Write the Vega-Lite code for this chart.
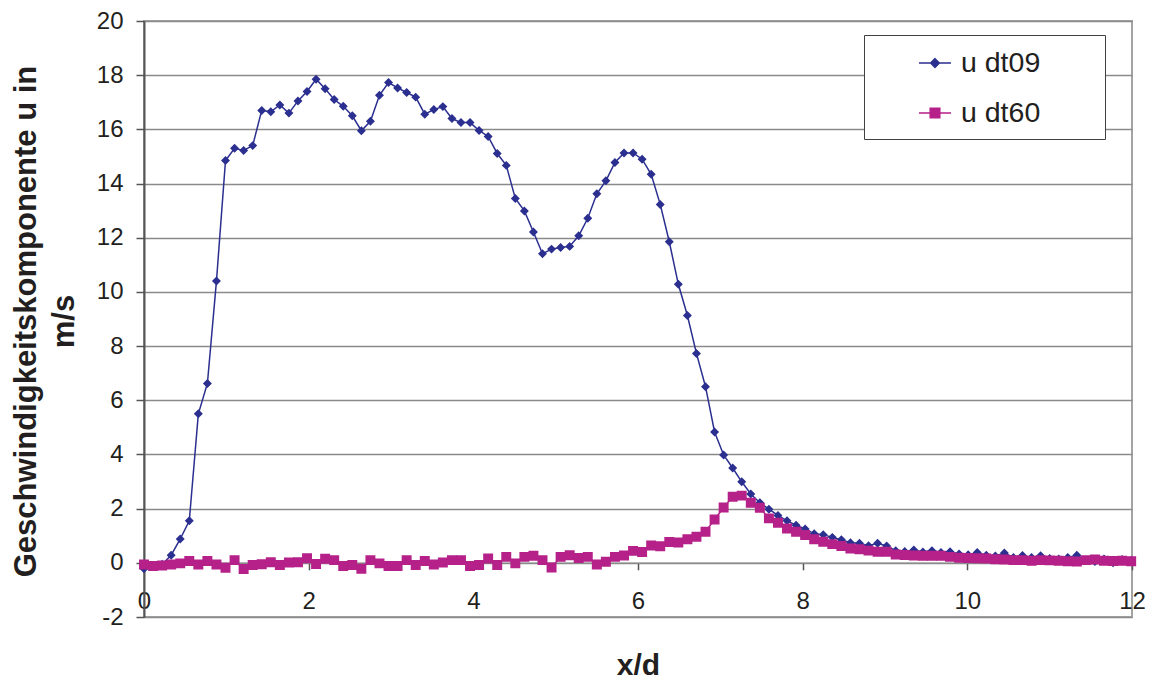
{
  "$schema": "https://vega.github.io/schema/vega-lite/v6.json",
  "autosize": {"type": "none"},
  "width": 988,
  "height": 596,
  "padding": {"left": 144, "top": 21, "right": 22, "bottom": 63},
  "background": "white",
  "config": {
    "font": "Liberation Sans",
    "view": {"stroke": "#a3a3a3", "strokeWidth": 2},
    "axis": {"labelFont": "Liberation Sans", "titleFont": "Liberation Sans", "labelColor": "#231f20", "titleColor": "#231f20"},
    "legend": {"orient": "none", "legendX": 720, "legendY": 14, "padding": 11, "rowPadding": 18, "strokeColor": "#404040", "fillColor": "white", "labelFontSize": 28.5, "labelFont": "Liberation Sans", "labelColor": "#231f20", "labelOffset": 9, "symbolSize": 1024, "symbolStrokeWidth": 1.5, "titleOrient": "left", "titleFontSize": 10, "titlePadding": 43}
  },
  "datasets": {
    "d": [
      {"x":0,"series":"u dt09","u":-0.22},{"x":0.11,"series":"u dt09","u":-0.12},{"x":0.22,"series":"u dt09","u":-0.05},{"x":0.33,"series":"u dt09","u":0.28},{"x":0.44,"series":"u dt09","u":0.88},{"x":0.55,"series":"u dt09","u":1.55},{"x":0.66,"series":"u dt09","u":5.5},{"x":0.77,"series":"u dt09","u":6.62},{"x":0.88,"series":"u dt09","u":10.4},{"x":0.99,"series":"u dt09","u":14.85},
      {"x":1.1,"series":"u dt09","u":15.3},{"x":1.21,"series":"u dt09","u":15.22},{"x":1.32,"series":"u dt09","u":15.4},{"x":1.43,"series":"u dt09","u":16.7},{"x":1.54,"series":"u dt09","u":16.65},{"x":1.65,"series":"u dt09","u":16.9},{"x":1.76,"series":"u dt09","u":16.6},{"x":1.87,"series":"u dt09","u":17.05},{"x":1.98,"series":"u dt09","u":17.4},{"x":2.09,"series":"u dt09","u":17.85},
      {"x":2.2,"series":"u dt09","u":17.5},{"x":2.31,"series":"u dt09","u":17.1},{"x":2.42,"series":"u dt09","u":16.85},{"x":2.53,"series":"u dt09","u":16.5},{"x":2.64,"series":"u dt09","u":15.95},{"x":2.75,"series":"u dt09","u":16.3},{"x":2.86,"series":"u dt09","u":17.26},{"x":2.97,"series":"u dt09","u":17.73},{"x":3.08,"series":"u dt09","u":17.53},{"x":3.19,"series":"u dt09","u":17.36},
      {"x":3.3,"series":"u dt09","u":17.19},{"x":3.41,"series":"u dt09","u":16.56},{"x":3.52,"series":"u dt09","u":16.73},{"x":3.63,"series":"u dt09","u":16.84},{"x":3.74,"series":"u dt09","u":16.4},{"x":3.85,"series":"u dt09","u":16.25},{"x":3.96,"series":"u dt09","u":16.25},{"x":4.07,"series":"u dt09","u":15.96},{"x":4.18,"series":"u dt09","u":15.74},{"x":4.29,"series":"u dt09","u":15.11},
      {"x":4.4,"series":"u dt09","u":14.67},{"x":4.51,"series":"u dt09","u":13.45},{"x":4.62,"series":"u dt09","u":12.99},{"x":4.73,"series":"u dt09","u":12.21},{"x":4.84,"series":"u dt09","u":11.41},{"x":4.95,"series":"u dt09","u":11.58},{"x":5.06,"series":"u dt09","u":11.64},{"x":5.17,"series":"u dt09","u":11.68},{"x":5.28,"series":"u dt09","u":12.07},{"x":5.39,"series":"u dt09","u":12.72},
      {"x":5.5,"series":"u dt09","u":13.62},{"x":5.61,"series":"u dt09","u":14.1},{"x":5.72,"series":"u dt09","u":14.78},{"x":5.83,"series":"u dt09","u":15.13},{"x":5.94,"series":"u dt09","u":15.13},{"x":6.05,"series":"u dt09","u":14.9},{"x":6.16,"series":"u dt09","u":14.34},{"x":6.27,"series":"u dt09","u":13.23},{"x":6.38,"series":"u dt09","u":11.85},{"x":6.49,"series":"u dt09","u":10.28},
      {"x":6.6,"series":"u dt09","u":9.13},{"x":6.71,"series":"u dt09","u":7.73},{"x":6.82,"series":"u dt09","u":6.5},{"x":6.93,"series":"u dt09","u":4.83},{"x":7.04,"series":"u dt09","u":3.98},{"x":7.15,"series":"u dt09","u":3.5},{"x":7.26,"series":"u dt09","u":2.99},{"x":7.37,"series":"u dt09","u":2.54},{"x":7.48,"series":"u dt09","u":2.22},{"x":7.59,"series":"u dt09","u":1.98},
      {"x":7.7,"series":"u dt09","u":1.75},{"x":7.81,"series":"u dt09","u":1.55},{"x":7.92,"series":"u dt09","u":1.39},{"x":8.03,"series":"u dt09","u":1.25},{"x":8.14,"series":"u dt09","u":1.07},{"x":8.25,"series":"u dt09","u":1.04},{"x":8.36,"series":"u dt09","u":0.94},{"x":8.47,"series":"u dt09","u":0.85},{"x":8.58,"series":"u dt09","u":0.74},{"x":8.69,"series":"u dt09","u":0.72},
      {"x":8.8,"series":"u dt09","u":0.63},{"x":8.91,"series":"u dt09","u":0.72},{"x":9.02,"series":"u dt09","u":0.62},{"x":9.13,"series":"u dt09","u":0.45},{"x":9.24,"series":"u dt09","u":0.42},{"x":9.35,"series":"u dt09","u":0.47},{"x":9.46,"series":"u dt09","u":0.4},{"x":9.57,"series":"u dt09","u":0.45},{"x":9.68,"series":"u dt09","u":0.38},{"x":9.79,"series":"u dt09","u":0.41},
      {"x":9.9,"series":"u dt09","u":0.33},{"x":10.01,"series":"u dt09","u":0.3},{"x":10.12,"series":"u dt09","u":0.38},{"x":10.23,"series":"u dt09","u":0.28},{"x":10.34,"series":"u dt09","u":0.25},{"x":10.45,"series":"u dt09","u":0.36},{"x":10.56,"series":"u dt09","u":0.2},{"x":10.67,"series":"u dt09","u":0.27},{"x":10.78,"series":"u dt09","u":0.2},{"x":10.89,"series":"u dt09","u":0.26},
      {"x":11.0,"series":"u dt09","u":0.16},{"x":11.11,"series":"u dt09","u":0.14},{"x":11.22,"series":"u dt09","u":0.2},{"x":11.33,"series":"u dt09","u":0.28},{"x":11.44,"series":"u dt09","u":0.1},{"x":11.55,"series":"u dt09","u":0.05},{"x":11.66,"series":"u dt09","u":0.14},{"x":11.77,"series":"u dt09","u":0.0},{"x":11.88,"series":"u dt09","u":0.12},{"x":11.99,"series":"u dt09","u":0.1},
      {"x":0,"series":"u dt60","u":-0.06},{"x":0.11,"series":"u dt60","u":-0.12},{"x":0.22,"series":"u dt60","u":-0.1},{"x":0.33,"series":"u dt60","u":-0.06},{"x":0.44,"series":"u dt60","u":-0.02},{"x":0.55,"series":"u dt60","u":0.07},{"x":0.66,"series":"u dt60","u":-0.06},{"x":0.77,"series":"u dt60","u":0.07},{"x":0.88,"series":"u dt60","u":-0.06},{"x":0.99,"series":"u dt60","u":-0.18},
      {"x":1.1,"series":"u dt60","u":0.1},{"x":1.21,"series":"u dt60","u":-0.23},{"x":1.32,"series":"u dt60","u":-0.08},{"x":1.43,"series":"u dt60","u":-0.05},{"x":1.54,"series":"u dt60","u":0.02},{"x":1.65,"series":"u dt60","u":-0.08},{"x":1.76,"series":"u dt60","u":0.01},{"x":1.87,"series":"u dt60","u":0.02},{"x":1.98,"series":"u dt60","u":0.17},{"x":2.09,"series":"u dt60","u":-0.04},
      {"x":2.2,"series":"u dt60","u":0.15},{"x":2.31,"series":"u dt60","u":0.1},{"x":2.42,"series":"u dt60","u":-0.12},{"x":2.53,"series":"u dt60","u":-0.08},{"x":2.64,"series":"u dt60","u":-0.22},{"x":2.75,"series":"u dt60","u":0.1},{"x":2.86,"series":"u dt60","u":-0.02},{"x":2.97,"series":"u dt60","u":-0.12},{"x":3.08,"series":"u dt60","u":-0.12},{"x":3.19,"series":"u dt60","u":0.1},
      {"x":3.3,"series":"u dt60","u":-0.08},{"x":3.41,"series":"u dt60","u":0.07},{"x":3.52,"series":"u dt60","u":-0.06},{"x":3.63,"series":"u dt60","u":0.01},{"x":3.74,"series":"u dt60","u":0.1},{"x":3.85,"series":"u dt60","u":0.1},{"x":3.96,"series":"u dt60","u":-0.12},{"x":4.07,"series":"u dt60","u":-0.08},{"x":4.18,"series":"u dt60","u":0.16},{"x":4.29,"series":"u dt60","u":-0.08},
      {"x":4.4,"series":"u dt60","u":0.22},{"x":4.51,"series":"u dt60","u":-0.02},{"x":4.62,"series":"u dt60","u":0.22},{"x":4.73,"series":"u dt60","u":0.26},{"x":4.84,"series":"u dt60","u":0.1},{"x":4.95,"series":"u dt60","u":-0.17},{"x":5.06,"series":"u dt60","u":0.22},{"x":5.17,"series":"u dt60","u":0.28},{"x":5.28,"series":"u dt60","u":0.18},{"x":5.39,"series":"u dt60","u":0.22},
      {"x":5.5,"series":"u dt60","u":-0.06},{"x":5.61,"series":"u dt60","u":0.04},{"x":5.72,"series":"u dt60","u":0.22},{"x":5.83,"series":"u dt60","u":0.27},{"x":5.94,"series":"u dt60","u":0.44},{"x":6.05,"series":"u dt60","u":0.4},{"x":6.16,"series":"u dt60","u":0.64},{"x":6.27,"series":"u dt60","u":0.61},{"x":6.38,"series":"u dt60","u":0.77},{"x":6.49,"series":"u dt60","u":0.75},
      {"x":6.6,"series":"u dt60","u":0.87},{"x":6.71,"series":"u dt60","u":0.96},{"x":6.82,"series":"u dt60","u":1.15},{"x":6.93,"series":"u dt60","u":1.6},{"x":7.04,"series":"u dt60","u":2.04},{"x":7.15,"series":"u dt60","u":2.44},{"x":7.26,"series":"u dt60","u":2.48},{"x":7.37,"series":"u dt60","u":2.22},{"x":7.48,"series":"u dt60","u":2.03},{"x":7.59,"series":"u dt60","u":1.64},
      {"x":7.7,"series":"u dt60","u":1.48},{"x":7.81,"series":"u dt60","u":1.27},{"x":7.92,"series":"u dt60","u":1.15},{"x":8.03,"series":"u dt60","u":1.03},{"x":8.14,"series":"u dt60","u":0.87},{"x":8.25,"series":"u dt60","u":0.78},{"x":8.36,"series":"u dt60","u":0.69},{"x":8.47,"series":"u dt60","u":0.62},{"x":8.58,"series":"u dt60","u":0.53},{"x":8.69,"series":"u dt60","u":0.5},
      {"x":8.8,"series":"u dt60","u":0.45},{"x":8.91,"series":"u dt60","u":0.41},{"x":9.02,"series":"u dt60","u":0.41},{"x":9.13,"series":"u dt60","u":0.31},{"x":9.24,"series":"u dt60","u":0.29},{"x":9.35,"series":"u dt60","u":0.27},{"x":9.46,"series":"u dt60","u":0.26},{"x":9.57,"series":"u dt60","u":0.26},{"x":9.68,"series":"u dt60","u":0.26},{"x":9.79,"series":"u dt60","u":0.22},
      {"x":9.9,"series":"u dt60","u":0.19},{"x":10.01,"series":"u dt60","u":0.18},{"x":10.12,"series":"u dt60","u":0.17},{"x":10.23,"series":"u dt60","u":0.16},{"x":10.34,"series":"u dt60","u":0.13},{"x":10.45,"series":"u dt60","u":0.12},{"x":10.56,"series":"u dt60","u":0.1},{"x":10.67,"series":"u dt60","u":0.1},{"x":10.78,"series":"u dt60","u":0.08},{"x":10.89,"series":"u dt60","u":0.1},
      {"x":11.0,"series":"u dt60","u":0.09},{"x":11.11,"series":"u dt60","u":0.08},{"x":11.22,"series":"u dt60","u":0.06},{"x":11.33,"series":"u dt60","u":0.05},{"x":11.44,"series":"u dt60","u":0.1},{"x":11.55,"series":"u dt60","u":0.12},{"x":11.66,"series":"u dt60","u":0.08},{"x":11.77,"series":"u dt60","u":0.07},{"x":11.88,"series":"u dt60","u":0.08},{"x":11.99,"series":"u dt60","u":0.06}
    ]
  },
  "data": {"name": "d"},
  "encoding": {
    "x": {
      "field": "x", "type": "quantitative",
      "scale": {"domain": [0, 12], "nice": false, "zero": false},
      "axis": {
        "values": [0, 2, 4, 6, 8, 10, 12],
        "grid": false,
        "offset": -54.2,
        "labelFlush": false,
        "domainColor": "#8a8a8a", "domainWidth": 1.5,
        "tickColor": "#555555", "tickSize": 7, "tickWidth": 1.5,
        "labelFontSize": 24, "labelPadding": 20,
        "title": "x/d", "titleFontSize": 30, "titleFontWeight": "bold",
        "titleBaseline": "alphabetic", "titleY": 112
      }
    },
    "y": {
      "field": "u", "type": "quantitative",
      "scale": {"domain": [-2, 20], "nice": false, "zero": false},
      "axis": {
        "values": [-2, 0, 2, 4, 6, 8, 10, 12, 14, 16, 18, 20],
        "labelExpr": "'' + datum.value",
        "grid": true, "gridColor": "#8a8a8a", "gridWidth": 1.5,
        "domainColor": "#555555", "domainWidth": 2,
        "tickColor": "#555555", "tickSize": 8, "tickWidth": 1.5,
        "labelFontSize": 24, "labelPadding": 13,
        "title": ["Geschwindigkeitskomponente u in", "m/s"],
        "titleFontSize": 31, "titleFontWeight": "bold", "titleLineHeight": 38,
        "titleBaseline": "alphabetic", "titleAngle": -90, "titleAlign": "center",
        "titleX": -109, "titleY": 300
      }
    },
    "color": {
      "field": "series", "type": "nominal",
      "scale": {"domain": ["u dt09", "u dt60"], "range": ["#2b2f8f", "#b52089"]},
      "legend": {"title": "\u00a0"}
    }
  },
  "layer": [
    {
      "mark": {"type": "line", "strokeWidth": 1.5}
    },
    {
      "mark": {"type": "point", "filled": true, "opacity": 1, "strokeWidth": 0, "size": 1100},
      "encoding": {
        "stroke": {"field": "series", "type": "nominal", "scale": {"domain": ["u dt09", "u dt60"], "range": ["#2b2f8f", "#b52089"]}, "legend": {"title": "\u00a0"}},
        "shape": {"field": "series", "type": "nominal", "scale": {"domain": ["u dt09", "u dt60"], "range": ["M-1,0H1M0,-0.27L0.27,0L0,0.27L-0.27,0ZM9.75,0", "M-1,0H1M-0.3,-0.3H0.3V0.3H-0.3ZM9.75,0"]}, "legend": {"title": "\u00a0"}}
      }
    }
  ]
}
